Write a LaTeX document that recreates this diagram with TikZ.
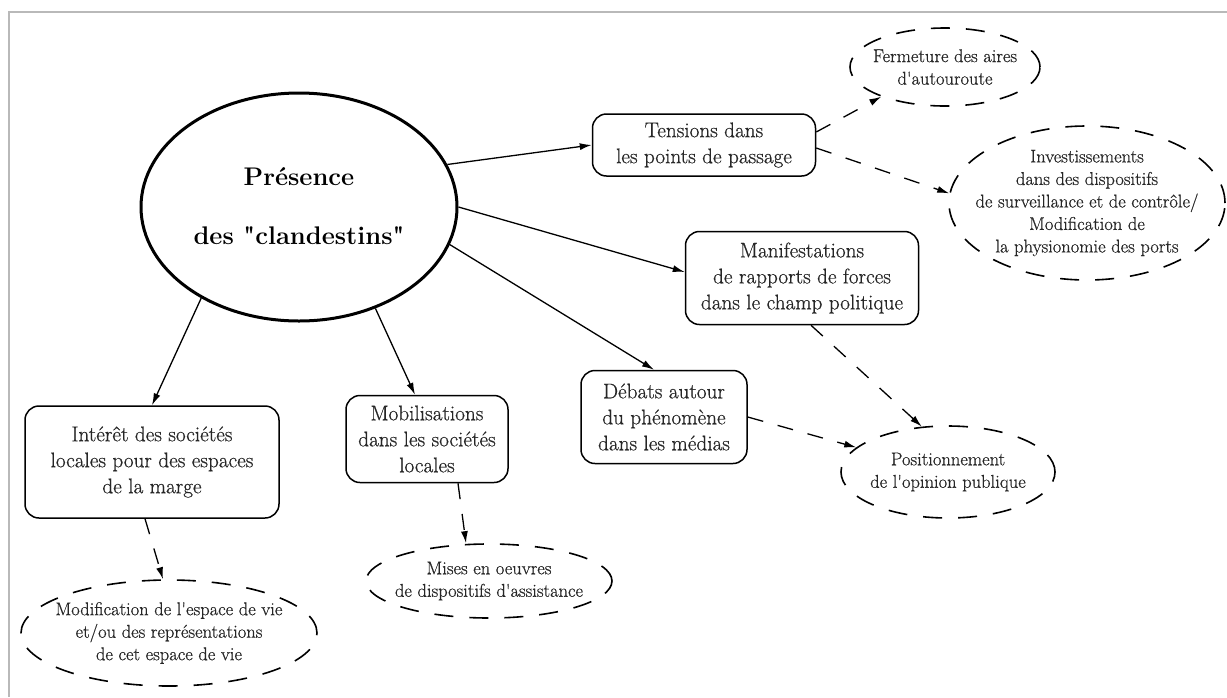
\documentclass[tikz,border=0pt]{standalone}
\usepackage{fontspec}
\setmainfont{Latin Modern Roman}[UprightFeatures={FakeBold=0.6}]
\newfontfamily\straightq{Latin Modern Roman}[Ligatures=TeXOff, UprightFeatures={FakeBold=0.6}]
\newcommand{\ap}{{\straightq '}}
\newcommand{\dq}{{\straightq\bfseries "}}
\usetikzlibrary{arrows.meta,shapes.geometric}
\begin{document}
\begin{tikzpicture}[x=1pt,y=-1pt,
  big/.style={font=\fontsize{21.2}{26}\selectfont, align=center, inner sep=0pt, text=black!85},
  small/.style={font=\fontsize{18.5}{22.5}\selectfont, align=center, inner sep=0pt, text=black!85},
  box/.style={draw, rounded corners=14pt, line width=1.5pt, big},
  dell/.style={draw, ellipse, dash pattern=on 19pt off 16pt, line width=1.6pt, inner sep=0pt},
  arr/.style={-{Latex[length=12pt,width=7pt]}, line width=1.3pt},
  darr/.style={arr, dash pattern=on 16pt off 15pt}]
\useasboundingbox (0,0) rectangle (1227,697);
% frame
\draw[gray!55, line width=2pt] (9,697) -- (9,12) -- (1227,12);

% main ellipse
\node[draw, ellipse, line width=3pt, minimum width=316, minimum height=228, inner sep=0pt] (main) at (299,207) {};
\node[font=\fontsize{25.5}{30}\selectfont\bfseries, anchor=base] (mainA) at (299,185) {Présence};
\node[font=\fontsize{25.5}{30}\selectfont\bfseries, anchor=base] (mainB) at (299,244) {des \dq clandestins\dq};

% boxes
\node[box, minimum width=223, minimum height=62] (tens) at (704,145) {Tensions dans\\les points de passage};
\node[box, minimum width=233, minimum height=93] (manif) at (802,278) {Manifestations\\de rapports de forces\\dans le champ politique};
\node[box, minimum width=166, minimum height=93] (debats) at (664,417) {Débats autour\\du phénomène\\dans les médias};
\node[box, minimum width=254, minimum height=112] (interet) at (152,462) {Intérêt des sociétés\\locales pour des espaces\\de la marge};
\node[box, minimum width=162, minimum height=87] (mobil) at (427,439) {Mobilisations\\dans les sociétés\\locales};

% dashed ellipses
\node[dell, minimum width=190, minimum height=78] (ferm) at (945,67) {};
\node[small] (fermT) at (ferm) {Fermeture des aires\\d\ap autouroute};
\node[dell, minimum width=276, minimum height=154] (invest) at (1087,203) {};
\node[small] (investT) at (invest) {Investissements\\dans des dispositifs\\de surveillance et de contrôle/\\Modification de\\la physionomie des ports};
\node[dell, minimum width=214, minimum height=92] (posit) at (948,472) {};
\node[small] (positT) at (posit) {Positionnement\\de l\ap opinion publique};
\node[dell, minimum width=296, minimum height=106] (modif) at (169,633) {};
\node[small] (modifT) at (modif) {Modification de l\ap espace de vie\\et/ou des représentations\\de cet espace de vie};
\node[dell, minimum width=246, minimum height=74] (mises) at (489,581) {};
\node[small] (misesT) at (mises) {Mises en oeuvres\\de dispositifs d\ap assistance};

% solid arrows
\draw[arr] (main.16) -- (tens.west);
\draw[arr] (main.0) -- ([yshift=6pt]manif.west);
\draw[arr] (main.-14) -- ([xshift=-10pt]debats.north);
\draw[arr] (main.-137) -- (interet.north);
\draw[arr] (main.-53) -- ([xshift=-12pt]mobil.north);

% dashed arrows
\draw[darr] ([yshift=13pt]tens.east) -- (ferm.205);
\draw[darr] ([yshift=-3pt]tens.east) -- (invest.176);
\draw[darr] ([xshift=9pt]manif.south) -- (posit.120);
\draw[darr] (debats.east) -- (posit.165);
\draw[darr] ([xshift=-7pt]interet.south) -- ([xshift=-6pt]modif.north);
\draw[darr] ([xshift=31pt]mobil.south) -- ([xshift=-23pt]mises.north);
\end{tikzpicture}
\end{document}
